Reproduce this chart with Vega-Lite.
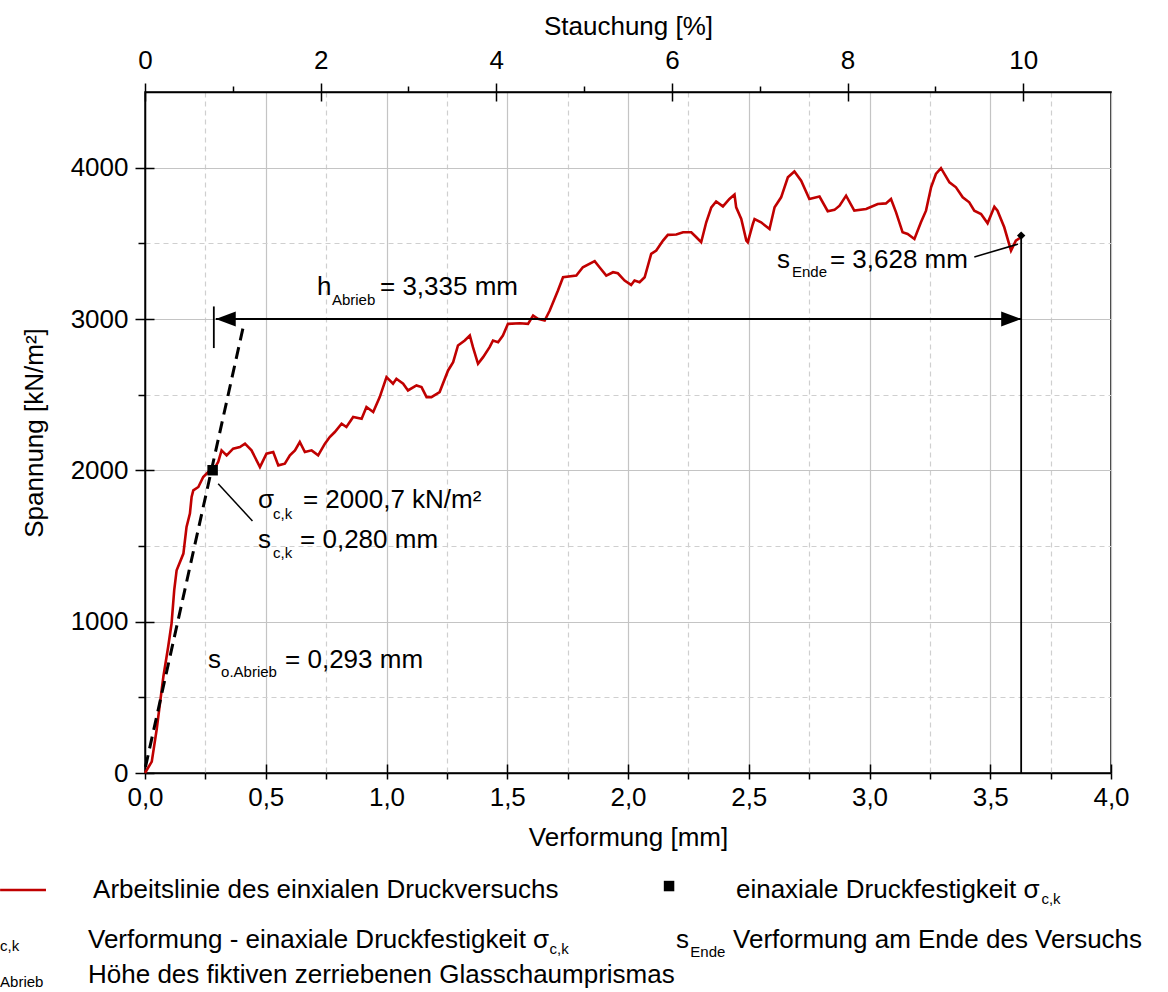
{
"$schema": "https://vega.github.io/schema/vega-lite/v6.json",
"width": 966, "height": 681,
"autosize": "none",
"padding": {"left": 145, "top": 92, "right": 57, "bottom": 219},
"background": "white",
"config": {
  "font": "Liberation Sans",
  "view": {"stroke": "#000", "strokeWidth": 1.5},
  "axis": {"labelFont": "Liberation Sans", "titleFont": "Liberation Sans", "labelFontSize": 26, "titleFontSize": 26, "titleFontWeight": "normal", "labelColor": "#000", "titleColor": "#000", "domainColor": "#000", "domainWidth": 1.5, "tickColor": "#000", "tickWidth": 1.5, "gridColor": "#c4c4c4", "gridWidth": 1.2, "labelOverlap": false, "labelFlush": false},
  "text": {"font": "Liberation Sans", "color": "#000"}
},
"datasets": {
  "curve": [
    {"s":0,"sigma":0},{"s":0.028,"sigma":75},{"s":0.048,"sigma":284},{"s":0.076,"sigma":636},{"s":0.096,"sigma":834},{"s":0.110,"sigma":988},{"s":0.121,"sigma":1208},{"s":0.131,"sigma":1340},{"s":0.159,"sigma":1450},{"s":0.172,"sigma":1626},{"s":0.186,"sigma":1714},{"s":0.193,"sigma":1824},{"s":0.200,"sigma":1868},{"s":0.221,"sigma":1890},{"s":0.241,"sigma":1956},{"s":0.262,"sigma":1989},{"s":0.283,"sigma":2000},{"s":0.303,"sigma":2055},{"s":0.317,"sigma":2132},{"s":0.338,"sigma":2099},{"s":0.365,"sigma":2143},{"s":0.393,"sigma":2154},{"s":0.414,"sigma":2176},{"s":0.441,"sigma":2132},{"s":0.476,"sigma":2022},{"s":0.503,"sigma":2110},{"s":0.531,"sigma":2121},{"s":0.552,"sigma":2033},{"s":0.579,"sigma":2044},{"s":0.600,"sigma":2099},{"s":0.621,"sigma":2132},{"s":0.641,"sigma":2187},{"s":0.662,"sigma":2121},{"s":0.690,"sigma":2132},{"s":0.717,"sigma":2099},{"s":0.745,"sigma":2176},{"s":0.765,"sigma":2220},{"s":0.786,"sigma":2253},{"s":0.814,"sigma":2308},{"s":0.834,"sigma":2286},{"s":0.862,"sigma":2352},{"s":0.897,"sigma":2341},{"s":0.917,"sigma":2418},{"s":0.945,"sigma":2385},{"s":0.972,"sigma":2484},{"s":1.000,"sigma":2616},{"s":1.027,"sigma":2572},{"s":1.041,"sigma":2605},{"s":1.069,"sigma":2572},{"s":1.089,"sigma":2528},{"s":1.124,"sigma":2561},{"s":1.145,"sigma":2550},{"s":1.166,"sigma":2484},{"s":1.186,"sigma":2484},{"s":1.220,"sigma":2517},{"s":1.255,"sigma":2660},{"s":1.276,"sigma":2715},{"s":1.296,"sigma":2825},{"s":1.324,"sigma":2858},{"s":1.345,"sigma":2891},{"s":1.358,"sigma":2814},{"s":1.379,"sigma":2704},{"s":1.400,"sigma":2748},{"s":1.427,"sigma":2814},{"s":1.441,"sigma":2858},{"s":1.462,"sigma":2847},{"s":1.482,"sigma":2891},{"s":1.503,"sigma":2968},{"s":1.552,"sigma":2972},{"s":1.586,"sigma":2968},{"s":1.607,"sigma":3023},{"s":1.627,"sigma":3001},{"s":1.655,"sigma":2990},{"s":1.676,"sigma":3056},{"s":1.710,"sigma":3188},{"s":1.731,"sigma":3276},{"s":1.786,"sigma":3287},{"s":1.813,"sigma":3342},{"s":1.862,"sigma":3382},{"s":1.882,"sigma":3342},{"s":1.910,"sigma":3287},{"s":1.938,"sigma":3309},{"s":1.958,"sigma":3302},{"s":1.986,"sigma":3254},{"s":2.013,"sigma":3225},{"s":2.027,"sigma":3254},{"s":2.048,"sigma":3243},{"s":2.069,"sigma":3276},{"s":2.096,"sigma":3430},{"s":2.117,"sigma":3452},{"s":2.145,"sigma":3518},{"s":2.165,"sigma":3556},{"s":2.200,"sigma":3558},{"s":2.228,"sigma":3573},{"s":2.262,"sigma":3573},{"s":2.283,"sigma":3540},{"s":2.303,"sigma":3507},{"s":2.324,"sigma":3639},{"s":2.345,"sigma":3738},{"s":2.365,"sigma":3777},{"s":2.393,"sigma":3744},{"s":2.420,"sigma":3793},{"s":2.441,"sigma":3822},{"s":2.448,"sigma":3738},{"s":2.469,"sigma":3661},{"s":2.490,"sigma":3518},{"s":2.496,"sigma":3507},{"s":2.517,"sigma":3628},{"s":2.524,"sigma":3661},{"s":2.551,"sigma":3639},{"s":2.586,"sigma":3595},{"s":2.607,"sigma":3738},{"s":2.634,"sigma":3804},{"s":2.662,"sigma":3936},{"s":2.689,"sigma":3975},{"s":2.717,"sigma":3914},{"s":2.751,"sigma":3793},{"s":2.793,"sigma":3809},{"s":2.827,"sigma":3712},{"s":2.855,"sigma":3721},{"s":2.876,"sigma":3749},{"s":2.903,"sigma":3815},{"s":2.937,"sigma":3716},{"s":2.986,"sigma":3727},{"s":3.034,"sigma":3760},{"s":3.068,"sigma":3764},{"s":3.089,"sigma":3793},{"s":3.110,"sigma":3705},{"s":3.137,"sigma":3573},{"s":3.158,"sigma":3562},{"s":3.186,"sigma":3529},{"s":3.213,"sigma":3639},{"s":3.234,"sigma":3716},{"s":3.255,"sigma":3870},{"s":3.275,"sigma":3958},{"s":3.296,"sigma":3997},{"s":3.331,"sigma":3903},{"s":3.358,"sigma":3870},{"s":3.386,"sigma":3804},{"s":3.413,"sigma":3771},{"s":3.434,"sigma":3716},{"s":3.462,"sigma":3694},{"s":3.489,"sigma":3632},{"s":3.517,"sigma":3742},{"s":3.530,"sigma":3716},{"s":3.558,"sigma":3606},{"s":3.586,"sigma":3452},{"s":3.606,"sigma":3518},{"s":3.627,"sigma":3540}
  ]
},
"layer": [
  {
    "data": {"values": [{}]},
    "layer": [
      {"mark": {"type": "point", "opacity": 0},
       "encoding": {
         "x": {"datum": 0, "type": "quantitative", "scale": {"domain": [0, 4], "nice": false}, "axis": {"orient": "bottom", "values": [0.25,0.75,1.25,1.75,2.25,2.75,3.25,3.75], "grid": true, "gridDash": [5,4], "gridColor": "#cfcfcf", "tickSize": 6, "labels": false, "domain": false, "title": null}},
         "y": {"datum": 0, "type": "quantitative", "scale": {"domain": [0, 4500], "nice": false}, "axis": {"orient": "left", "values": [500,1500,2500,3500], "grid": true, "gridDash": [5,4], "gridColor": "#cfcfcf", "tickSize": 7, "labels": false, "domain": false, "title": null}}}},
      {"mark": {"type": "point", "opacity": 0},
       "encoding": {
         "x": {"datum": 0, "type": "quantitative", "axis": {"orient": "bottom", "values": [0,0.5,1,1.5,2,2.5,3,3.5,4], "grid": false, "tickSize": -9, "labels": false, "domain": false, "title": null}},
         "y": {"datum": 0, "type": "quantitative", "axis": {"orient": "left", "values": [0,1000,2000,3000,4000], "grid": false, "tickSize": -9, "labels": false, "domain": false, "title": null}}}},
      {"data": {"name": "curve"},
       "mark": {"type": "line", "color": "#c00000", "strokeWidth": 2.6},
       "encoding": {
         "x": {"field": "s", "type": "quantitative", "scale": {"domain": [0, 4], "nice": false}, "axis": {"orient": "bottom", "values": [0,0.5,1,1.5,2,2.5,3,3.5,4], "labelExpr": "replace(format(datum.value, '.1f'), '.', ',')", "title": "Verformung [mm]", "grid": true, "tickSize": 6, "labelPadding": 5, "titlePadding": 14}},
         "y": {"field": "sigma", "type": "quantitative", "scale": {"domain": [0, 4500], "nice": false}, "axis": {"orient": "left", "values": [0,1000,2000,3000,4000], "format": "d", "title": "Spannung [kN/m²]", "grid": true, "tickSize": 10, "labelPadding": 7, "titlePadding": 23}}}},
      {"mark": {"type": "rule", "strokeDash": [12,7], "strokeWidth": 3, "color": "#000"},
       "encoding": {"x": {"datum": 0.002, "type": "quantitative", "axis": null}, "y": {"datum": 40, "type": "quantitative", "axis": null}, "x2": {"datum": 0.407}, "y2": {"datum": 2949}}},
      {"mark": {"type": "rule", "strokeWidth": 1.8, "color": "#000"},
       "encoding": {"x": {"datum": 3.628, "type": "quantitative", "axis": null}, "y": {"datum": 0, "type": "quantitative", "axis": null}, "y2": {"datum": 3551}}},
      {"mark": {"type": "rule", "strokeWidth": 1.8, "color": "#000"},
       "encoding": {"x": {"datum": 0.293, "type": "quantitative", "axis": null}, "x2": {"datum": 3.628}, "y": {"datum": 3000, "type": "quantitative", "axis": null}}},
      {"mark": {"type": "rule", "strokeWidth": 1.8, "color": "#000"},
       "encoding": {"x": {"datum": 0.285, "type": "quantitative", "axis": null}, "y": {"datum": 2808, "type": "quantitative", "axis": null}, "y2": {"datum": 3083}}},
      {"mark": {"type": "point", "shape": "M0,0L2,-0.75L2,0.75Z", "size": 400, "filled": true, "color": "#000", "opacity": 1},
       "encoding": {"x": {"datum": 0.293, "type": "quantitative", "axis": null}, "y": {"datum": 3000, "type": "quantitative", "axis": null}}},
      {"mark": {"type": "point", "shape": "M0,0L-2,-0.75L-2,0.75Z", "size": 400, "filled": true, "color": "#000", "opacity": 1},
       "encoding": {"x": {"datum": 3.628, "type": "quantitative", "axis": null}, "y": {"datum": 3000, "type": "quantitative", "axis": null}}},
      {"mark": {"type": "point", "shape": "square", "size": 110, "filled": true, "color": "#000", "opacity": 1},
       "encoding": {"x": {"datum": 0.280, "type": "quantitative", "axis": null}, "y": {"datum": 2000.7, "type": "quantitative", "axis": null}}},
      {"mark": {"type": "point", "shape": "diamond", "size": 70, "filled": true, "color": "#000", "opacity": 1},
       "encoding": {"x": {"datum": 3.628, "type": "quantitative", "axis": null}, "y": {"datum": 3551, "type": "quantitative", "axis": null}}},
      {"mark": {"type": "rule", "strokeWidth": 1.5, "color": "#000"},
       "encoding": {"x": {"datum": 0.303, "type": "quantitative", "axis": null}, "y": {"datum": 1912, "type": "quantitative", "axis": null}, "x2": {"datum": 0.445}, "y2": {"datum": 1665}}},
      {"mark": {"type": "rule", "strokeWidth": 1.5, "color": "#000"},
       "encoding": {"x": {"datum": 3.434, "type": "quantitative", "axis": null}, "y": {"datum": 3410, "type": "quantitative", "axis": null}, "x2": {"datum": 3.615}, "y2": {"datum": 3495}}},
      {"mark": {"type": "text", "text": "h", "align": "left", "baseline": "alphabetic", "fontSize": 26},
       "encoding": {"x": {"datum": 0.712, "type": "quantitative", "axis": null}, "y": {"datum": 3159, "type": "quantitative", "axis": null}}},
      {"mark": {"type": "text", "text": "Abrieb", "align": "left", "baseline": "alphabetic", "fontSize": 15},
       "encoding": {"x": {"datum": 0.774, "type": "quantitative", "axis": null}, "y": {"datum": 3093, "type": "quantitative", "axis": null}}},
      {"mark": {"type": "text", "text": "= 3,335 mm", "align": "left", "baseline": "alphabetic", "fontSize": 26},
       "encoding": {"x": {"datum": 0.973, "type": "quantitative", "axis": null}, "y": {"datum": 3159, "type": "quantitative", "axis": null}}},
      {"mark": {"type": "text", "text": "σ", "align": "left", "baseline": "alphabetic", "fontSize": 26},
       "encoding": {"x": {"datum": 0.468, "type": "quantitative", "axis": null}, "y": {"datum": 1751, "type": "quantitative", "axis": null}}},
      {"mark": {"type": "text", "text": "c,k", "align": "left", "baseline": "alphabetic", "fontSize": 15},
       "encoding": {"x": {"datum": 0.530, "type": "quantitative", "axis": null}, "y": {"datum": 1678, "type": "quantitative", "axis": null}}},
      {"mark": {"type": "text", "text": "= 2000,7 kN/m²", "align": "left", "baseline": "alphabetic", "fontSize": 26},
       "encoding": {"x": {"datum": 0.654, "type": "quantitative", "axis": null}, "y": {"datum": 1751, "type": "quantitative", "axis": null}}},
      {"mark": {"type": "text", "text": "s", "align": "left", "baseline": "alphabetic", "fontSize": 26},
       "encoding": {"x": {"datum": 0.468, "type": "quantitative", "axis": null}, "y": {"datum": 1487, "type": "quantitative", "axis": null}}},
      {"mark": {"type": "text", "text": "c,k", "align": "left", "baseline": "alphabetic", "fontSize": 15},
       "encoding": {"x": {"datum": 0.530, "type": "quantitative", "axis": null}, "y": {"datum": 1421, "type": "quantitative", "axis": null}}},
      {"mark": {"type": "text", "text": "= 0,280 mm", "align": "left", "baseline": "alphabetic", "fontSize": 26},
       "encoding": {"x": {"datum": 0.642, "type": "quantitative", "axis": null}, "y": {"datum": 1487, "type": "quantitative", "axis": null}}},
      {"mark": {"type": "text", "text": "s", "align": "left", "baseline": "alphabetic", "fontSize": 26},
       "encoding": {"x": {"datum": 0.261, "type": "quantitative", "axis": null}, "y": {"datum": 694, "type": "quantitative", "axis": null}}},
      {"mark": {"type": "text", "text": "o.Abrieb", "align": "left", "baseline": "alphabetic", "fontSize": 15},
       "encoding": {"x": {"datum": 0.315, "type": "quantitative", "axis": null}, "y": {"datum": 634, "type": "quantitative", "axis": null}}},
      {"mark": {"type": "text", "text": "= 0,293 mm", "align": "left", "baseline": "alphabetic", "fontSize": 26},
       "encoding": {"x": {"datum": 0.580, "type": "quantitative", "axis": null}, "y": {"datum": 694, "type": "quantitative", "axis": null}}},
      {"mark": {"type": "text", "text": "s", "align": "left", "baseline": "alphabetic", "fontSize": 26},
       "encoding": {"x": {"datum": 2.617, "type": "quantitative", "axis": null}, "y": {"datum": 3337, "type": "quantitative", "axis": null}}},
      {"mark": {"type": "text", "text": "Ende", "align": "left", "baseline": "alphabetic", "fontSize": 15},
       "encoding": {"x": {"datum": 2.679, "type": "quantitative", "axis": null}, "y": {"datum": 3278, "type": "quantitative", "axis": null}}},
      {"mark": {"type": "text", "text": "= 3,628 mm", "align": "left", "baseline": "alphabetic", "fontSize": 26},
       "encoding": {"x": {"datum": 2.836, "type": "quantitative", "axis": null}, "y": {"datum": 3337, "type": "quantitative", "axis": null}}},
      {"mark": {"type": "rule", "strokeWidth": 2.6, "color": "#c00000"},
       "encoding": {"x": {"datum": -0.6, "type": "quantitative", "axis": null}, "x2": {"datum": -0.41}, "y": {"datum": -773, "type": "quantitative", "axis": null}}},
      {"mark": {"type": "text", "text": "Arbeitslinie des einxialen Druckversuchs", "align": "left", "baseline": "middle", "fontSize": 26},
       "encoding": {"x": {"datum": -0.215, "type": "quantitative", "axis": null}, "y": {"datum": -773, "type": "quantitative", "axis": null}}},
      {"mark": {"type": "point", "shape": "square", "size": 110, "filled": true, "color": "#000", "opacity": 1},
       "encoding": {"x": {"datum": 2.170, "type": "quantitative", "axis": null}, "y": {"datum": -747, "type": "quantitative", "axis": null}}},
      {"mark": {"type": "text", "text": "einaxiale Druckfestigkeit σ", "align": "left", "baseline": "middle", "fontSize": 26},
       "encoding": {"x": {"datum": 2.447, "type": "quantitative", "axis": null}, "y": {"datum": -773, "type": "quantitative", "axis": null}}},
      {"mark": {"type": "text", "text": "c,k", "align": "left", "baseline": "middle", "fontSize": 15},
       "encoding": {"x": {"datum": 3.712, "type": "quantitative", "axis": null}, "y": {"datum": -833, "type": "quantitative", "axis": null}}},
      {"mark": {"type": "text", "text": "c,k", "align": "left", "baseline": "middle", "fontSize": 15},
       "encoding": {"x": {"datum": -0.6, "type": "quantitative", "axis": null}, "y": {"datum": -1143, "type": "quantitative", "axis": null}}},
      {"mark": {"type": "text", "text": "Verformung - einaxiale Druckfestigkeit σ", "align": "left", "baseline": "middle", "fontSize": 26},
       "encoding": {"x": {"datum": -0.236, "type": "quantitative", "axis": null}, "y": {"datum": -1104, "type": "quantitative", "axis": null}}},
      {"mark": {"type": "text", "text": "c,k", "align": "left", "baseline": "middle", "fontSize": 15},
       "encoding": {"x": {"datum": 1.675, "type": "quantitative", "axis": null}, "y": {"datum": -1163, "type": "quantitative", "axis": null}}},
      {"mark": {"type": "text", "text": "s", "align": "left", "baseline": "middle", "fontSize": 26},
       "encoding": {"x": {"datum": 2.199, "type": "quantitative", "axis": null}, "y": {"datum": -1104, "type": "quantitative", "axis": null}}},
      {"mark": {"type": "text", "text": "Ende", "align": "left", "baseline": "middle", "fontSize": 15},
       "encoding": {"x": {"datum": 2.258, "type": "quantitative", "axis": null}, "y": {"datum": -1183, "type": "quantitative", "axis": null}}},
      {"mark": {"type": "text", "text": "Verformung am Ende des Versuchs", "align": "left", "baseline": "middle", "fontSize": 26},
       "encoding": {"x": {"datum": 2.435, "type": "quantitative", "axis": null}, "y": {"datum": -1104, "type": "quantitative", "axis": null}}},
      {"mark": {"type": "text", "text": "Abrieb", "align": "left", "baseline": "middle", "fontSize": 15},
       "encoding": {"x": {"datum": -0.6, "type": "quantitative", "axis": null}, "y": {"datum": -1381, "type": "quantitative", "axis": null}}},
      {"mark": {"type": "text", "text": "Höhe des fiktiven zerriebenen Glasschaumprismas", "align": "left", "baseline": "middle", "fontSize": 26},
       "encoding": {"x": {"datum": -0.236, "type": "quantitative", "axis": null}, "y": {"datum": -1338, "type": "quantitative", "axis": null}}}
    ],
    "resolve": {"axis": {"x": "independent", "y": "independent"}}
  },
  {
    "data": {"values": [{}]},
    "layer": [
      {"mark": {"type": "point", "opacity": 0},
       "encoding": {"x": {"datum": 0, "type": "quantitative", "scale": {"domain": [0, 11], "nice": false}, "axis": {"orient": "top", "values": [0,2,4,6,8,10], "format": "d", "title": "Stauchung [%]", "grid": false, "tickSize": 9, "labelPadding": 10, "titlePadding": 8}}}},
      {"mark": {"type": "point", "opacity": 0},
       "encoding": {"x": {"datum": 0, "type": "quantitative", "axis": {"orient": "top", "values": [1,3,5,7,9], "tickSize": 6, "labels": false, "domain": false, "grid": false, "title": null}}}},
      {"mark": {"type": "point", "opacity": 0},
       "encoding": {"x": {"datum": 0, "type": "quantitative", "axis": {"orient": "top", "values": [0,2,4,6,8,10], "tickSize": -9, "labels": false, "domain": false, "grid": false, "title": null}}}}
    ],
    "resolve": {"axis": {"x": "independent"}}
  }
],
"resolve": {"scale": {"x": "independent"}}
}
